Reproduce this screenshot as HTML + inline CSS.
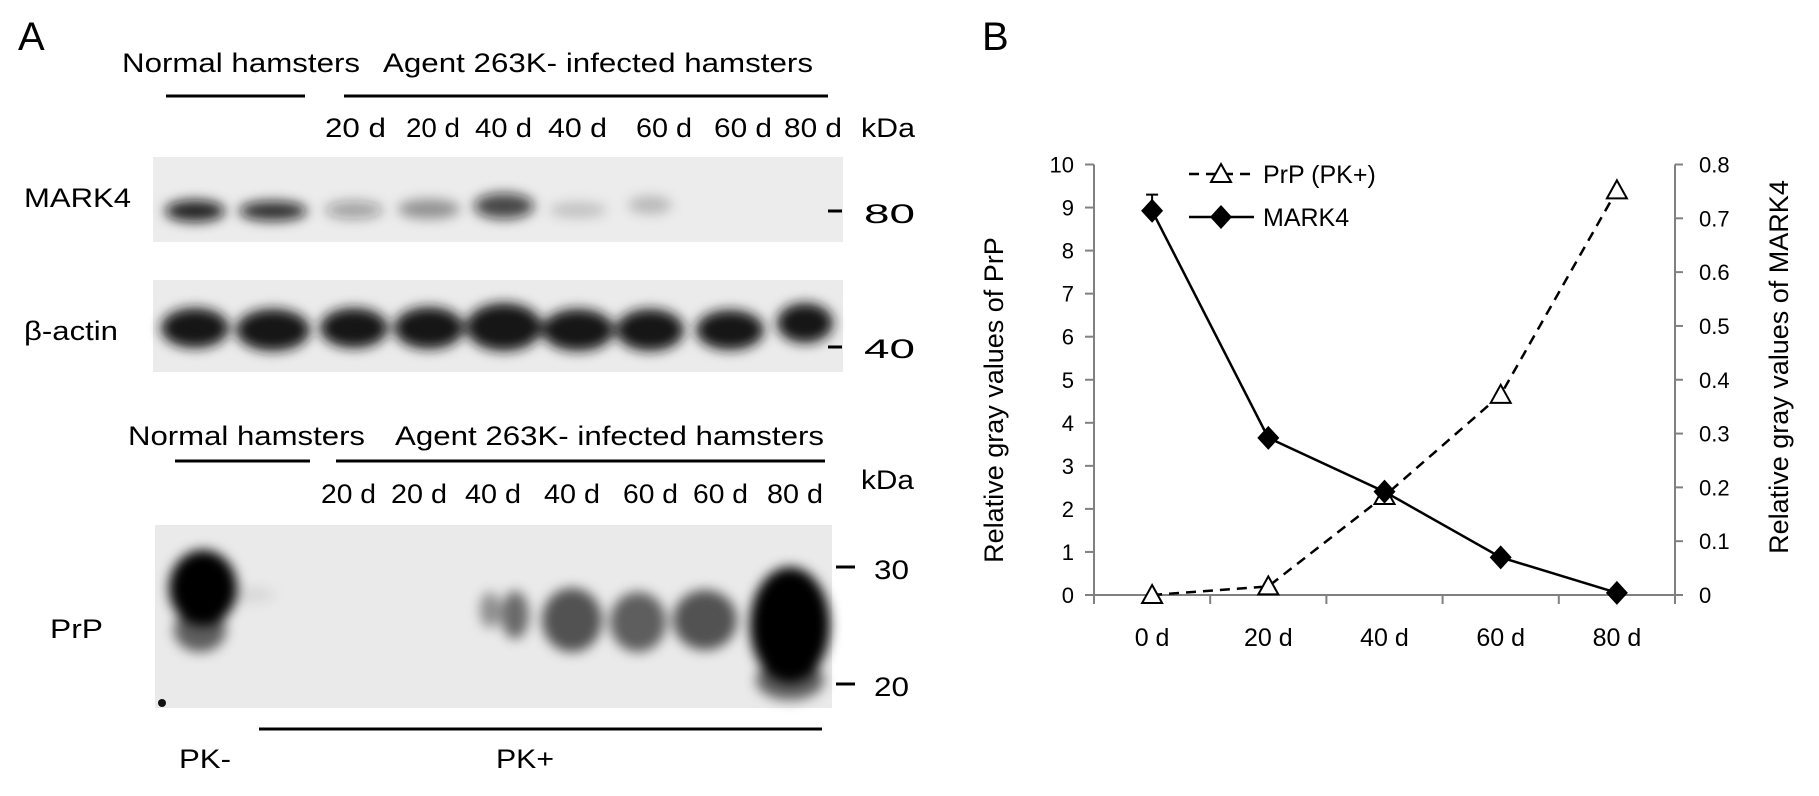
<!DOCTYPE html>
<html><head><meta charset="utf-8"><style>
html,body{margin:0;padding:0;background:#fff;}
svg{display:block;}
text{font-family:"Liberation Sans",sans-serif;fill:#000;}
</style></head><body>
<svg id="fig" width="1819" height="796" viewBox="0 0 1819 796" xmlns="http://www.w3.org/2000/svg">
<defs>
<filter id="b6" x="-50%" y="-50%" width="200%" height="200%"><feGaussianBlur stdDeviation="6"/></filter>
<filter id="b4" x="-50%" y="-50%" width="200%" height="200%"><feGaussianBlur stdDeviation="4"/></filter>
<filter id="b9" x="-50%" y="-50%" width="200%" height="200%"><feGaussianBlur stdDeviation="9"/></filter>
</defs>

<!-- Panel A -->
<g>
<text x="18" y="50" font-size="40">A</text>
<text x="122" y="72" font-size="27" textLength="238" lengthAdjust="spacingAndGlyphs">Normal hamsters</text>
<text x="383" y="72" font-size="27" textLength="430" lengthAdjust="spacingAndGlyphs">Agent 263K- infected hamsters</text>
<line x1="166" y1="96" x2="305" y2="96" stroke="#000" stroke-width="3"/>
<line x1="344" y1="96" x2="828" y2="96" stroke="#000" stroke-width="3"/>
<g font-size="27">
<text x="325" y="137" textLength="61" lengthAdjust="spacingAndGlyphs">20 d</text>
<text x="406" y="137" textLength="54" lengthAdjust="spacingAndGlyphs">20 d</text>
<text x="475" y="137" textLength="57" lengthAdjust="spacingAndGlyphs">40 d</text>
<text x="548" y="137" textLength="59" lengthAdjust="spacingAndGlyphs">40 d</text>
<text x="636" y="137" textLength="56" lengthAdjust="spacingAndGlyphs">60 d</text>
<text x="714" y="137" textLength="58" lengthAdjust="spacingAndGlyphs">60 d</text>
<text x="784" y="137" textLength="58" lengthAdjust="spacingAndGlyphs">80 d</text>
<text x="861" y="137" textLength="54" lengthAdjust="spacingAndGlyphs">kDa</text>
</g>
<text x="24" y="207" font-size="27" textLength="107" lengthAdjust="spacingAndGlyphs">MARK4</text>
<text x="24" y="340" font-size="27" textLength="94" lengthAdjust="spacingAndGlyphs">β-actin</text>

<g>
<rect x="153" y="157" width="690" height="85" fill="#ececec"/>
<g fill="#111" filter="url(#b6)">
<ellipse cx="195" cy="211" rx="30" ry="11" opacity="0.9"/>
<ellipse cx="273" cy="211" rx="34" ry="10" opacity="0.85"/>
<ellipse cx="354" cy="210" rx="29" ry="9" opacity="0.35"/>
<ellipse cx="429" cy="209" rx="31" ry="10" opacity="0.38"/>
<ellipse cx="504" cy="206" rx="30" ry="13" opacity="0.75"/>
<ellipse cx="578" cy="210" rx="29" ry="8" opacity="0.18"/>
<ellipse cx="650" cy="205" rx="22" ry="9" opacity="0.22"/>
</g>
</g>
<g>
<rect x="153" y="280" width="690" height="92" fill="#ebebeb"/>
<g fill="#141414" filter="url(#b6)">
<ellipse cx="195" cy="328" rx="34" ry="20"/>
<ellipse cx="273" cy="330" rx="37" ry="21"/>
<ellipse cx="354" cy="328" rx="34" ry="20"/>
<ellipse cx="429" cy="328" rx="35" ry="21"/>
<ellipse cx="504" cy="327" rx="38" ry="24"/>
<ellipse cx="578" cy="330" rx="36" ry="21"/>
<ellipse cx="650" cy="330" rx="34" ry="21"/>
<ellipse cx="730" cy="330" rx="34" ry="20"/>
<ellipse cx="805" cy="323" rx="28" ry="20"/>
</g>
</g>
<g>
<line x1="828" y1="211" x2="842" y2="211" stroke="#000" stroke-width="3"/>
<text x="864" y="223" font-size="27" textLength="51" lengthAdjust="spacingAndGlyphs">80</text>
<line x1="828" y1="347" x2="842" y2="347" stroke="#000" stroke-width="3"/>
<text x="864" y="358" font-size="27" textLength="51" lengthAdjust="spacingAndGlyphs">40</text>
</g>

<text x="128" y="445" font-size="27" textLength="237" lengthAdjust="spacingAndGlyphs">Normal hamsters</text>
<text x="395" y="445" font-size="27" textLength="429" lengthAdjust="spacingAndGlyphs">Agent 263K- infected hamsters</text>
<line x1="175" y1="461" x2="310" y2="461" stroke="#000" stroke-width="3"/>
<line x1="336" y1="461" x2="825" y2="461" stroke="#000" stroke-width="3"/>
<g font-size="27">
<text x="321" y="503" textLength="55" lengthAdjust="spacingAndGlyphs">20 d</text>
<text x="391" y="503" textLength="56" lengthAdjust="spacingAndGlyphs">20 d</text>
<text x="465" y="503" textLength="56" lengthAdjust="spacingAndGlyphs">40 d</text>
<text x="544" y="503" textLength="56" lengthAdjust="spacingAndGlyphs">40 d</text>
<text x="623" y="503" textLength="55" lengthAdjust="spacingAndGlyphs">60 d</text>
<text x="693" y="503" textLength="55" lengthAdjust="spacingAndGlyphs">60 d</text>
<text x="767" y="503" textLength="56" lengthAdjust="spacingAndGlyphs">80 d</text>
<text x="861" y="489" textLength="53" lengthAdjust="spacingAndGlyphs">kDa</text>
</g>
<text x="50" y="638" font-size="27" textLength="53" lengthAdjust="spacingAndGlyphs">PrP</text>
<g>
<rect x="155" y="525" width="677" height="183" fill="#eaeaea"/>
<g fill="#000" filter="url(#b6)">
<ellipse cx="203" cy="588" rx="34" ry="38"/>
<ellipse cx="200" cy="630" rx="26" ry="22" opacity="0.6"/>
<ellipse cx="250" cy="595" rx="25" ry="8" opacity="0.08"/>
<ellipse cx="490" cy="610" rx="10" ry="18" opacity="0.4"/>
<ellipse cx="515" cy="615" rx="14" ry="24" opacity="0.55"/>
<ellipse cx="572" cy="620" rx="30" ry="32" opacity="0.65"/>
<ellipse cx="638" cy="622" rx="28" ry="30" opacity="0.6"/>
<ellipse cx="705" cy="620" rx="32" ry="30" opacity="0.65"/>
<ellipse cx="790" cy="625" rx="40" ry="58"/>
<ellipse cx="790" cy="680" rx="34" ry="20" opacity="0.6"/>
</g>
<circle cx="162" cy="703" r="4" fill="#111"/>
</g>
<g>
<line x1="836" y1="567" x2="855" y2="567" stroke="#000" stroke-width="3"/>
<text x="874" y="579" font-size="27" textLength="35" lengthAdjust="spacingAndGlyphs">30</text>
<line x1="836" y1="684" x2="855" y2="684" stroke="#000" stroke-width="3"/>
<text x="874" y="696" font-size="27" textLength="35" lengthAdjust="spacingAndGlyphs">20</text>
</g>
<line x1="259" y1="729" x2="822" y2="729" stroke="#000" stroke-width="3"/>
<text x="179" y="768" font-size="27" textLength="52" lengthAdjust="spacingAndGlyphs">PK-</text>
<text x="496" y="768" font-size="27" textLength="58" lengthAdjust="spacingAndGlyphs">PK+</text>
</g>

<!-- Panel B -->
<g id="chart">
<text x="982" y="50" font-size="40">B</text>
</g>
</svg>
<script>
const categories = ["0 d", "20 d", "40 d", "60 d", "80 d"];
const prpValues = [0, 0.2, 2.3, 4.65, 9.4];
const mark4Values = [0.714, 0.292, 0.192, 0.07, 0.004];
const mark4ErrorTop = [0.744, null, null, null, null];
const leftTicks = [0, 1, 2, 3, 4, 5, 6, 7, 8, 9, 10];
const rightTicks = [0, 0.1, 0.2, 0.3, 0.4, 0.5, 0.6, 0.7, 0.8];
const rightTickLabels = ["0", "0.1", "0.2", "0.3", "0.4", "0.5", "0.6", "0.7", "0.8"];

const NS = "http://www.w3.org/2000/svg";
const g = document.getElementById('chart');
const X0 = 1094, X1 = 1675, Y0 = 595, YT = 164.5;
const band = (X1 - X0) / categories.length;
const xPos = i => X0 + band * (i + 0.5);
const yL = v => Y0 - (v / 10) * (Y0 - YT);
const yR = v => Y0 - (v / 0.8) * (Y0 - YT);
function mk(tag, attrs, parent) {
  const e = document.createElementNS(NS, tag);
  for (const k in attrs) e.setAttribute(k, attrs[k]);
  (parent || g).appendChild(e);
  return e;
}
let e;
e = mk('line', {x1: X0, y1: YT, x2: X0, y2: Y0, stroke: '#808080', 'stroke-width': 2});


e = mk('line', {x1: X1, y1: YT, x2: X1, y2: Y0, stroke: '#808080', 'stroke-width': 2});


e = mk('line', {x1: X0, y1: Y0, x2: X1, y2: Y0, stroke: '#808080', 'stroke-width': 2});


leftTicks.forEach(v => {
  const t = mk('line', {x1: X0 - 9, y1: yL(v), x2: X0, y2: yL(v), stroke: '#808080', 'stroke-width': 2});
  
  
  const l = mk('text', {x: X0 - 20, y: yL(v) + 8, 'font-size': 22, 'text-anchor': 'end'});
  
  
  l.textContent = String(v);
});
rightTicks.forEach((v, i) => {
  const t = mk('line', {x1: X1, y1: yR(v), x2: X1 + 8, y2: yR(v), stroke: '#808080', 'stroke-width': 2});
  
  
  const l = mk('text', {x: X1 + 24, y: yR(v) + 8, 'font-size': 22});
  
  
  l.textContent = rightTickLabels[i];
});
for (let i = 0; i <= categories.length; i++) {
  const t = mk('line', {x1: X0 + band * i, y1: Y0, x2: X0 + band * i, y2: Y0 + 9, stroke: '#808080', 'stroke-width': 2});
  
  
}
categories.forEach((c, i) => {
  const l = mk('text', {x: xPos(i), y: 646, 'font-size': 25, 'text-anchor': 'middle'});
  
  
  l.textContent = c;
});
e = mk('text', {x: 0, y: 0, 'font-size': 27, 'text-anchor': 'middle', transform: 'translate(1003,400) rotate(-90)'});


e.textContent = 'Relative gray values of PrP';
e = mk('text', {x: 0, y: 0, 'font-size': 27, 'text-anchor': 'middle', transform: 'translate(1788,367) rotate(-90)'});


e.textContent = 'Relative gray values of MARK4';
function tri(cx, cy, name) {
  const p = mk('path', {d: `M${cx},${cy - 10} L${cx + 10},${cy + 8} L${cx - 10},${cy + 8} Z`, fill: '#fff', stroke: '#000', 'stroke-width': 2});
  
  
}
function dia(cx, cy, name) {
  const p = mk('path', {d: `M${cx},${cy - 12} L${cx + 11},${cy} L${cx},${cy + 12} L${cx - 11},${cy} Z`, fill: '#000'});
  
  
}
e = mk('polyline', {points: prpValues.map((v, i) => xPos(i) + ',' + yL(v)).join(' '), fill: 'none', stroke: '#000', 'stroke-width': 2.5, 'stroke-dasharray': '10,7'});


e = mk('polyline', {points: mark4Values.map((v, i) => xPos(i) + ',' + yR(v)).join(' '), fill: 'none', stroke: '#000', 'stroke-width': 2.5});


mark4ErrorTop.forEach((v, i) => {
  if (v == null) return;
  const l = mk('path', {d: `M${xPos(i)},${yR(mark4Values[i])} V${yR(v)} M${xPos(i) - 6},${yR(v)} H${xPos(i) + 6}`, stroke: '#000', 'stroke-width': 2, fill: 'none'});
  
  
});
prpValues.forEach((v, i) => tri(xPos(i), yL(v), 'prp-point'));
mark4Values.forEach((v, i) => dia(xPos(i), yR(v), 'mark4-point'));
e = mk('line', {x1: 1189, y1: 174, x2: 1254, y2: 174, stroke: '#000', 'stroke-width': 2.5, 'stroke-dasharray': '10,7'});


tri(1221, 174, 'legend-prp-marker');
e = mk('text', {x: 1263, y: 183, 'font-size': 25});


e.textContent = 'PrP (PK+)';
e = mk('line', {x1: 1189, y1: 217, x2: 1254, y2: 217, stroke: '#000', 'stroke-width': 2.5});


dia(1221, 217, 'legend-mark4-marker');
e = mk('text', {x: 1263, y: 226, 'font-size': 25});


e.textContent = 'MARK4';
</script>
</body></html>
